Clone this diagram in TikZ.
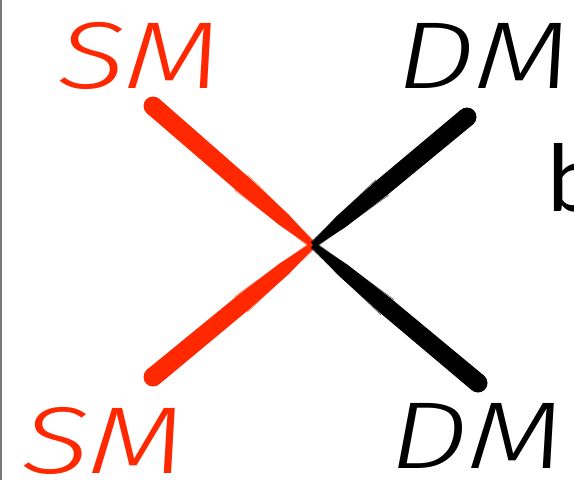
\documentclass[tikz,border=0pt]{standalone}
\usepackage{fontspec}
\setmainfont{Carlito}
\newfontfamily\hand{Fira Sans Light Italic}
\usetikzlibrary{calc}
\definecolor{brushred}{RGB}{255,40,0}
\definecolor{edgegray}{RGB}{120,120,120}
\tikzset{
  lbl/.style={inner sep=0pt, anchor=south west, font=\hand\fontsize{95}{95}\selectfont},
  bigletter/.style={inner sep=0pt, anchor=base west, font=\fontsize{98}{98}\selectfont},
  bristle/.style={line width=0.8pt, opacity=0.55},
}
% #1 outer end, #2 centre, #3 colour
\newcommand\brushstroke[3]{%
  \coordinate (bm) at ($(#1)!0.55!(#2)$);
  \coordinate (bn) at ($(#1)!0.82!(#2)$);
  \fill[#3] (#1) circle (9.5pt);
  \fill[#3] ($(#1)!9.5pt!90:(#2)$) -- ($(bm)!9pt!90:(#2)$) -- ($(bn)!7pt!90:(#2)$)
     -- ($(#2)!2.5pt!-90:(#1)$) -- ($(#2)!2.5pt!90:(#1)$)
     -- ($(bn)!-7pt!90:(#2)$) -- ($(bm)!-9pt!90:(#2)$) -- ($(#1)!-9.5pt!90:(#2)$) -- cycle;
  \foreach \o in {-10,-8.5,8.5,10}{
    \draw[#3, bristle] ($(bm)!\o pt!90:(#2)$) -- ($(#2)!0.35*\o pt!-90:(#1)$);
  }
}
\begin{document}
\begin{tikzpicture}[x=1pt,y=-1pt]
  \useasboundingbox (0,0) rectangle (574,480);
  \clip (0,0) rectangle (574,480);
  \fill[white] (0,0) rectangle (574,480);
  \fill[edgegray] (0,0) rectangle (2,480);

  \coordinate (X) at (313,245);
  \coordinate (smA) at (153,106);
  \coordinate (smB) at (153,377);
  \coordinate (dmA) at (467,117);
  \coordinate (dmB) at (478,383);

  \brushstroke{smA}{X}{brushred}
  \brushstroke{smB}{X}{brushred}
  \brushstroke{dmA}{X}{black}
  \brushstroke{dmB}{X}{black}

  \node[lbl, text=brushred] (smtop) at (58,90) {\scalebox{1.32}[1]{SM}};
  \node[lbl, text=black] (dmtop) at (396,89) {\scalebox{1.32}[1]{DM}};
  \node[lbl, text=brushred] (smbot) at (22,475) {\scalebox{1.32}[1]{SM}};
  \node[lbl, text=black] (dmbot) at (389,469) {\scalebox{1.32}[1]{DM}};

  \node[bigletter] (bglyph) at (547,211) {b};
\end{tikzpicture}
\end{document}
